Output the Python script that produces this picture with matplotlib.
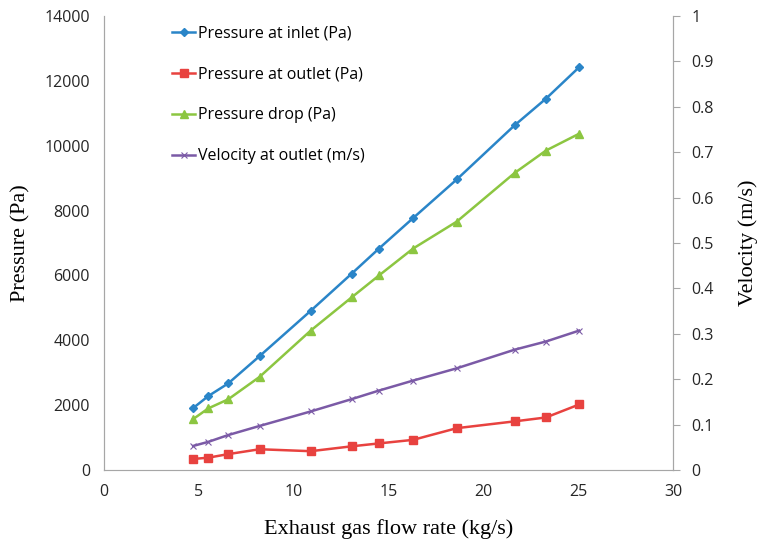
import numpy as np
import matplotlib
matplotlib.use("Agg")
import matplotlib.pyplot as plt

# exhaust gas flow rate (kg/s)
flow = [4.7, 5.5, 6.55, 8.2, 10.9, 13.05, 14.5, 16.3, 18.6, 21.65, 23.3, 25.05]

p_inlet = [1910, 2280, 2670, 3510, 4910, 6050, 6830, 7770, 8960, 10630, 11450, 12420]
p_outlet = [340, 380, 490, 640, 580, 730, 820, 930, 1290, 1500, 1620, 2020]
p_drop = [1570, 1900, 2180, 2870, 4300, 5320, 6000, 6830, 7660, 9160, 9850, 10370]
v_outlet = [0.053, 0.062, 0.077, 0.097, 0.129, 0.156, 0.175, 0.197, 0.224, 0.265, 0.283, 0.307]

tick_font = "Open Sans"
label_font = "Liberation Serif"

fig = plt.figure(figsize=(7.62, 5.43), dpi=100)
ax = fig.add_axes([104/762, 73/543, 569/762, 454/543])
ax2 = ax.twinx()

l1, = ax.plot(flow, p_inlet, color="#2a85c8", lw=1.8, marker="D", ms=4,
              label="Pressure at inlet (Pa)")
l2, = ax.plot(flow, p_outlet, color="#e8423f", lw=1.8, marker="s", ms=6,
              label="Pressure at outlet (Pa)")
l3, = ax.plot(flow, p_drop, color="#8cc641", lw=1.8, marker="^", ms=6,
              label="Pressure drop (Pa)")
l4, = ax2.plot(flow, v_outlet, color="#7b5aa6", lw=1.8, marker="x", ms=5,
               mew=0.8, label="Velocity at outlet (m/s)")

ax.set_xlim(0, 30)
ax.set_ylim(0, 14000)
ax2.set_ylim(0, 1)
ax.set_xticks(np.arange(0, 31, 5))
ax.set_yticks(np.arange(0, 14001, 2000))
ax2.set_yticks(np.arange(0, 1.01, 0.1))
ax2.set_yticklabels(["0"] + [f"{v:.1f}" for v in np.arange(0.1, 0.95, 0.1)] + ["1"])

for a in (ax, ax2):
    for s in a.spines.values():
        s.set_color("#a6a6a6")
    a.spines["top"].set_visible(False)
ax.spines["bottom"].set_color("#d0d0d0")
ax.tick_params(axis="both", length=0, pad=10, labelsize=11.5, labelcolor="#262626")
ax2.tick_params(axis="y", length=5, color="#a6a6a6", pad=8, labelsize=11.5,
                labelcolor="#262626")
for lab in ax.get_xticklabels() + ax.get_yticklabels() + ax2.get_yticklabels():
    lab.set_fontfamily(tick_font)

ax.set_xlabel("Exhaust gas flow rate (kg/s)", fontsize=16, family=label_font, labelpad=14)
ax.set_ylabel("Pressure (Pa)", fontsize=16, family=label_font, labelpad=10)
ax2.set_ylabel("Velocity (m/s)", fontsize=16, family=label_font, labelpad=18)

ax.legend(handles=[l1, l2, l3, l4], loc="upper left", bbox_to_anchor=(0.095, 1.01),
          frameon=False, handlelength=1.4, handletextpad=0.2, labelspacing=1.55,
          prop={"family": tick_font, "size": 11.5})

fig.savefig("out.png", dpi=100)
